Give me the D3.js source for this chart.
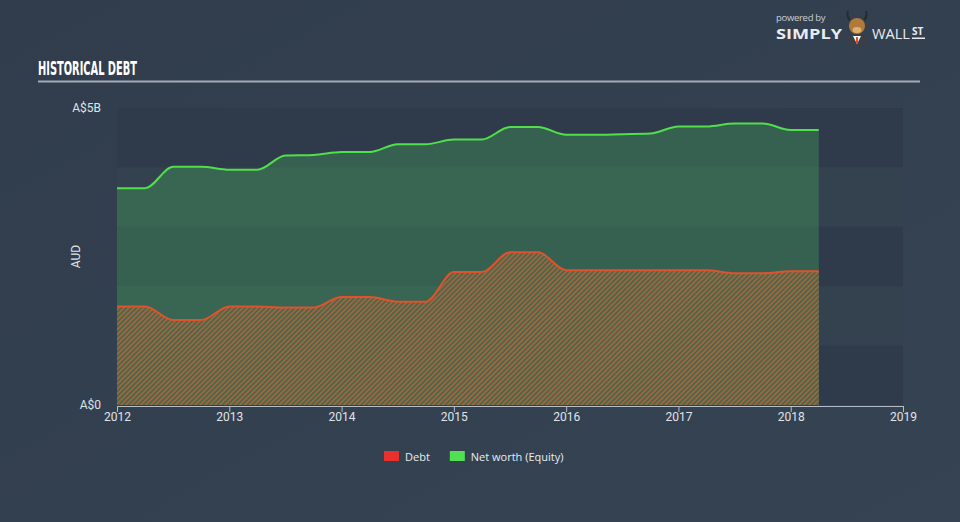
<!DOCTYPE html>
<html><head><meta charset="utf-8">
<script src="https://cdn.jsdelivr.net/npm/d3@7"></script>
<style>
html,body{margin:0;padding:0;background:#333f4f;}
svg{display:block;}
</style></head>
<body>
<svg id="chart" width="960" height="522"></svg>
<script>
// ---- data ----
const dates = [2012,2012.25,2012.5,2012.75,2013,2013.25,2013.5,2013.75,2014,2014.25,2014.5,2014.75,2015,2015.25,2015.5,2015.75,2016,2016.25,2016.5,2016.75,2017,2017.25,2017.5,2017.75,2018,2018.25];
const debt = [1.66,1.66,1.43,1.43,1.66,1.66,1.64,1.64,1.82,1.82,1.74,1.74,2.24,2.24,2.57,2.57,2.27,2.27,2.27,2.27,2.27,2.27,2.22,2.22,2.25,2.25];
const equity = [3.65,3.65,4.01,4.01,3.96,3.96,4.20,4.21,4.26,4.26,4.39,4.39,4.47,4.47,4.68,4.68,4.55,4.55,4.56,4.57,4.69,4.69,4.74,4.74,4.63,4.63];
const xTicks = [2012,2013,2014,2015,2016,2017,2018,2019];
const yTickLabels = [{v:0,t:"A$0"},{v:5,t:"A$5B"}];
const legendItems = [{name:"Debt",color:"#e8302c"},{name:"Net worth (Equity)",color:"#52e052"}];

const svg = d3.select("#chart");
const W=960,H=522;
const defs = svg.append("defs");
const bg = defs.append("linearGradient").attr("id","bg").attr("x1","0").attr("y1","0").attr("x2","1").attr("y2","1");
bg.append("stop").attr("offset","0").attr("stop-color","#313d4d");
bg.append("stop").attr("offset","1").attr("stop-color","#354353");
svg.append("rect").attr("width",W).attr("height",H).attr("fill","url(#bg)");

const pat = defs.append("pattern").attr("id","hatch").attr("patternUnits","userSpaceOnUse")
  .attr("width",3.5).attr("height",3.5).attr("patternTransform","rotate(45)");
pat.append("rect").attr("width",3.5).attr("height",3.5).attr("fill","#46694e");
pat.append("rect").attr("width",1.7).attr("height",3.5).attr("fill","#a6643c");

const x = d3.scaleLinear().domain([2012,2019]).range([117,903]);
const y = d3.scaleLinear().domain([0,5]).range([405,108]);

// bands
const bands = d3.range(5);
svg.append("g").selectAll("rect").data(bands).join("rect")
  .attr("x",x(2012)).attr("width",x(2019)-x(2012))
  .attr("y",d=>y(5-d)).attr("height",d=>y(4-d)-y(5-d))
  .attr("fill",d=>d%2===0?"#2f3b4b":"#34414f");

const pts = dates.map((d,i)=>({d,debt:debt[i],eq:equity[i]}));
const curve = d3.curveMonotoneX;

svg.append("path").datum(pts)
  .attr("d",d3.area().x(p=>x(p.d)).y0(y(0)).y1(p=>y(p.eq)).curve(curve))
  .attr("fill","#41a05a").attr("fill-opacity",0.38);
svg.append("path").datum(pts)
  .attr("d",d3.area().x(p=>x(p.d)).y0(y(0)).y1(p=>y(p.debt)).curve(curve))
  .attr("fill","url(#hatch)");
svg.append("path").datum(pts)
  .attr("d",d3.line().x(p=>x(p.d)).y(p=>y(p.eq)).curve(curve))
  .attr("fill","none").attr("stroke","#4fe04a").attr("stroke-width",2);
svg.append("path").datum(pts)
  .attr("d",d3.line().x(p=>x(p.d)).y(p=>y(p.debt)).curve(curve))
  .attr("fill","none").attr("stroke","#e0522c").attr("stroke-width",2);

// x axis
const xAxis = svg.append("g").attr("transform",`translate(0,${y(0)+1})`)
  .call(d3.axisBottom(x).tickValues(xTicks).tickFormat(d3.format("d")).tickSize(6).tickSizeOuter(0));
xAxis.select(".domain").attr("stroke","#b4bec8");
xAxis.selectAll(".tick line").attr("stroke","#b4bec8");
xAxis.selectAll("text").attr("fill","#e0e4e8").attr("font-family","Roboto, sans-serif").attr("font-size",12).attr("dy","0.75em").attr("y",6);

// y labels
svg.append("g").selectAll("text").data(yTickLabels).join("text")
  .attr("x",101).attr("y",d=>y(d.v)).attr("dy","0.35em").attr("text-anchor","end")
  .attr("fill","#dfe3e7").attr("font-family","Roboto, sans-serif").attr("font-size",12).text(d=>d.t);
svg.append("text").attr("transform",`translate(80,${(y(0)+y(5))/2}) rotate(-90)`)
  .attr("text-anchor","middle").attr("fill","#dfe3e7").attr("font-family","Roboto, sans-serif").attr("font-size",12).text("AUD");

// title
svg.append("text").attr("x",38).attr("y",75).attr("fill","#ffffff")
  .attr("font-family","'DejaVu Sans Condensed', 'DejaVu Sans', sans-serif").attr("font-weight","bold")
  .attr("font-size",19).attr("textLength",99).attr("lengthAdjust","spacingAndGlyphs").text("HISTORICAL DEBT");
svg.append("rect").attr("x",38).attr("y",80.5).attr("width",882).attr("height",2).attr("fill","#a3abb4");

// legend
const lg = svg.append("g").attr("transform","translate(384,451)");
let off=0;
legendItems.forEach(it=>{
  const g=lg.append("g").attr("transform",`translate(${off},0)`);
  g.append("rect").attr("width",15).attr("height",10).attr("fill",it.color);
  const t=g.append("text").attr("x",21).attr("y",9.5).attr("fill","#e8ecf0")
    .attr("font-family","'Open Sans', sans-serif").attr("font-size",11).text(it.name);
  off += 21 + t.node().getComputedTextLength() + 20;
});

// logo
const logo = svg.append("g");
logo.append("text").attr("x",776).attr("y",21).attr("fill","#c8ced4").attr("font-family","'Open Sans', sans-serif").attr("font-size",9.5).attr("letter-spacing",-0.3).text("powered by");
logo.append("text").attr("x",776).attr("y",39).attr("fill","#e8ecf0").attr("font-family","'Open Sans', sans-serif").attr("font-weight","bold").attr("font-size",14).attr("textLength",66).attr("lengthAdjust","spacingAndGlyphs").text("SIMPLY");
logo.append("path").attr("d","M847,46 L847,36 Q857,30 867,36 L867,46 Z").attr("fill","#3a3e46");
logo.append("path").attr("d","M853,36 L857,44 L861,36 Z").attr("fill","#ffffff");
logo.append("ellipse").attr("cx",857).attr("cy",26).attr("rx",8).attr("ry",8).attr("fill","#b07a3a");
logo.append("ellipse").attr("cx",857).attr("cy",30).attr("rx",4.5).attr("ry",3).attr("fill","#e0b070");
logo.append("path").attr("d","M850,20 Q846,16 848,11 M864,20 Q868,16 866,11").attr("stroke","#2a2a2a").attr("stroke-width",2).attr("fill","none");
logo.append("rect").attr("x",856).attr("y",37).attr("width",2).attr("height",7).attr("fill","#e05020");
logo.append("text").attr("x",872).attr("y",39).attr("fill","#e8ecf0").attr("font-family","'Open Sans', sans-serif").attr("font-size",14).attr("textLength",38).attr("lengthAdjust","spacingAndGlyphs").text("WALL");
logo.append("text").attr("x",912).attr("y",35).attr("fill","#e8ecf0").attr("font-family","'Open Sans', sans-serif").attr("font-weight","bold").attr("font-size",10).text("ST");
logo.append("rect").attr("x",912).attr("y",37.5).attr("width",13).attr("height",1.5).attr("fill","#e8ecf0");
</script>
</body></html>
